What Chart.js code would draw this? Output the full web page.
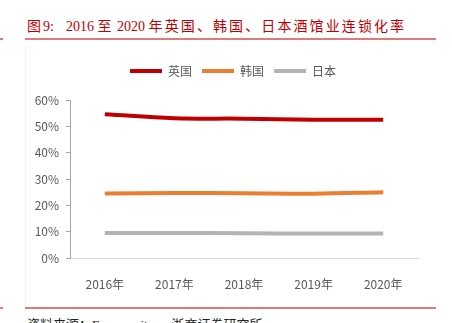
<!DOCTYPE html>
<html>
<head>
<meta charset="utf-8">
<script src="https://cdn.jsdelivr.net/npm/chart.js@4.4.0/dist/chart.umd.min.js"></script>
<style>
  body { margin: 0; width: 452px; height: 323px; overflow: hidden; background: #fff; position: relative; }
  #title { position: absolute; left: 27px; top: 15px; font: 14px "Liberation Serif", "Noto Sans CJK SC", serif; color: #c00000; white-space: pre; }
  #title .c { font-family: "Noto Sans CJK SC", sans-serif; letter-spacing: 2.1px; }
  .rule { position: absolute; left: 25px; width: 411px; height: 2px; background: #e07a7a; }
  .tick { position: absolute; left: 0; width: 3px; height: 2px; background: #e07a7a; }
  #source { position: absolute; left: 27px; top: 314px; font: 13px "Liberation Serif", "Noto Sans CJK SC", serif; color: #222; white-space: pre; }
  #frame { position: absolute; left: 25px; top: 44px; width: 1px; height: 262px; background: #f2f2f2; }
  #wrap { position: absolute; left: 0; top: 0; width: 452px; height: 323px; }
</style>
</head>
<body>
<div id="title"><span class="c">图</span>9:<span style="margin-left:12px">2016</span> <span class="c">至</span> 2020 <span class="c">年英国、韩国、日本酒馆业连锁化率</span></div>
<div class="rule" style="top:38px"></div>
<div class="tick" style="top:38px"></div>
<div id="frame"></div>
<div class="rule" style="top:307px"></div>
<div class="tick" style="top:307px"></div>
<div id="source">资料来源：Euromonitor，浙商证券研究所</div>
<div id="wrap"><canvas id="chart"></canvas></div>
<script>
// values in percent
const years = ['2016年', '2017年', '2018年', '2019年', '2020年'];
const seriesNames = ['英国', '韩国', '日本'];
const uk = [54.6, 53.1, 52.9, 52.5, 52.5];
const korea = [24.5, 24.7, 24.6, 24.4, 25.0];
const japan = [9.5, 9.5, 9.4, 9.3, 9.3];
const colors = ['#c00000', '#ed7d31', '#b4b4b4'];

const tickFont = { family: '"Noto Sans CJK SC", sans-serif', size: 12 };

// push the plot down below the legend, and nudge the legend right
const legendGap = {
    id: 'legendGap',
    beforeInit(chart) {
        const fit = chart.legend.fit;
        chart.legend.fit = function () {
            fit.bind(chart.legend)();
            this.height += 13;
        };
    },
    afterLayout(chart) {
        chart.legend.left += 48;
    }
};

function makeSet(label, data, color) {
    return {
        label: label,
        data: data,
        borderColor: color,
        backgroundColor: color,
        borderWidth: 4,
        pointRadius: 0,
        tension: 0.4,
        fill: false
    };
}

new Chart(document.getElementById('chart'), {
    type: 'line',
    data: {
        labels: years,
        datasets: [
            makeSet(seriesNames[0], uk, colors[0]),
            makeSet(seriesNames[1], korea, colors[1]),
            makeSet(seriesNames[2], japan, colors[2])
        ]
    },
    plugins: [legendGap],
    options: {
        responsive: true,
        maintainAspectRatio: false,
        animation: false,
        layout: { padding: { left: 0, right: 34, top: 55, bottom: 0 } },
        plugins: {
            tooltip: { enabled: false },
            legend: {
                position: 'top',
                labels: {
                    color: '#595959',
                    font: tickFont,
                    boxWidth: 32,
                    boxHeight: 4,
                    padding: 10,
                    generateLabels(chart) {
                        return Chart.defaults.plugins.legend.labels.generateLabels(chart)
                            .map(l => Object.assign(l, { lineWidth: 0 }));
                    }
                }
            }
        },
        scales: {
            x: {
                offset: true,
                grid: { display: false },
                border: { display: true, color: '#d9d9d9', width: 1 },
                ticks: { color: '#595959', font: tickFont, padding: 11, maxRotation: 0 },
                afterFit(scale) { scale.height = 65; }
            },
            y: {
                min: 0,
                max: 60,
                grid: { drawOnChartArea: false, drawTicks: true, tickLength: 4, color: '#a6a6a6' },
                border: { display: true, color: '#a6a6a6', width: 1 },
                ticks: {
                    stepSize: 10,
                    color: '#595959',
                    font: tickFont,
                    padding: 7,
                    callback: v => v + '%'
                },
                afterFit(scale) { scale.width = 70; }
            }
        }
    }
});
</script>
</body>
</html>
